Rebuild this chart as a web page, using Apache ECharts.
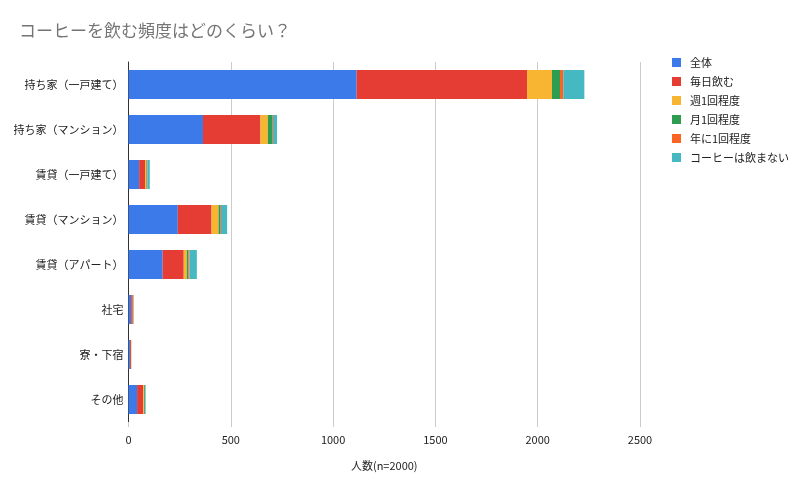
<!DOCTYPE html>
<html><head><meta charset="utf-8">
<script src="https://cdn.jsdelivr.net/npm/echarts@6/dist/echarts.min.js"></script>
<style>html,body{margin:0;padding:0;background:#fff}#c{width:800px;height:489px}</style>
</head><body><div id="c"></div>
<script>
const categories = ["持ち家（一戸建て）","持ち家（マンション）","賃貸（一戸建て）","賃貸（マンション）","賃貸（アパート）","社宅","寮・下宿","その他"];
const seriesNames = ["全体","毎日飲む","週1回程度","月1回程度","年に1回程度","コーヒーは飲まない"];
const total    = [1115, 364, 52, 241, 167, 13, 7, 42];
const daily    = [833, 281, 29, 165, 103, 8, 5, 30];
const weekly   = [122, 36, 6, 34, 15, 2, 1, 4];
const monthly  = [39, 21, 3, 8, 8, 1, 0, 4];
const yearly   = [16, 4, 3, 4, 5, 1, 0, 1];
const never    = [103, 20, 11, 30, 36, 1, 1, 3];
const xTicks = [0, 500, 1000, 1500, 2000, 2500];
const colors = ["#3b7ae8","#e53d33","#f8b532","#2e9d52","#fc6424","#45b8c1"];
const values = [total, daily, weekly, monthly, yearly, never];

const font = '"Noto Sans CJK JP", "Noto Sans", sans-serif';
const chart = echarts.init(document.getElementById('c'));
chart.setOption({
  animation: false,
  textStyle: {fontFamily: font},
  color: colors,
  title: {text: 'コーヒーを飲む頻度はどのくらい？', left: 14, top: 17,
    textStyle: {fontSize: 17, fontWeight: 'normal', color: '#757575', fontFamily: font}},
  legend: {orient: 'vertical', left: 667, top: 52, itemWidth: 9, itemHeight: 9, itemGap: 8,
    icon: 'rect', textStyle: {fontSize: 11, color: '#222', fontFamily: font, padding: [0,0,0,4]},
    data: seriesNames},
  grid: {left: 128.5, right: 160, top: 62, bottom: 67, containLabel: false},
  xAxis: {type: 'value', min: 0, max: 2500, interval: 500,
    name: '人数(n=2000)', nameLocation: 'middle', nameGap: 38,
    nameTextStyle: {fontSize: 11, color: '#222', fontFamily: font},
    axisLine: {show: false},
    axisTick: {show: true, length: 5, lineStyle: {color: '#ccc'}},
    axisLabel: {fontSize: 11, color: '#222', margin: 12,
      formatter: v => xTicks.includes(v) ? String(v) : ''},
    splitLine: {show: true, lineStyle: {color: '#ccc'}}},
  yAxis: {type: 'category', data: categories, inverse: true,
    axisLine: {show: true, lineStyle: {color: '#333'}},
    axisTick: {show: false},
    axisLabel: {fontSize: 11, color: '#222', margin: 5}},
  series: seriesNames.map((n, i) => ({
    name: n, type: 'bar', stack: 's', barWidth: 29, data: values[i],
    itemStyle: {color: colors[i]}
  }))
});
</script></body></html>
